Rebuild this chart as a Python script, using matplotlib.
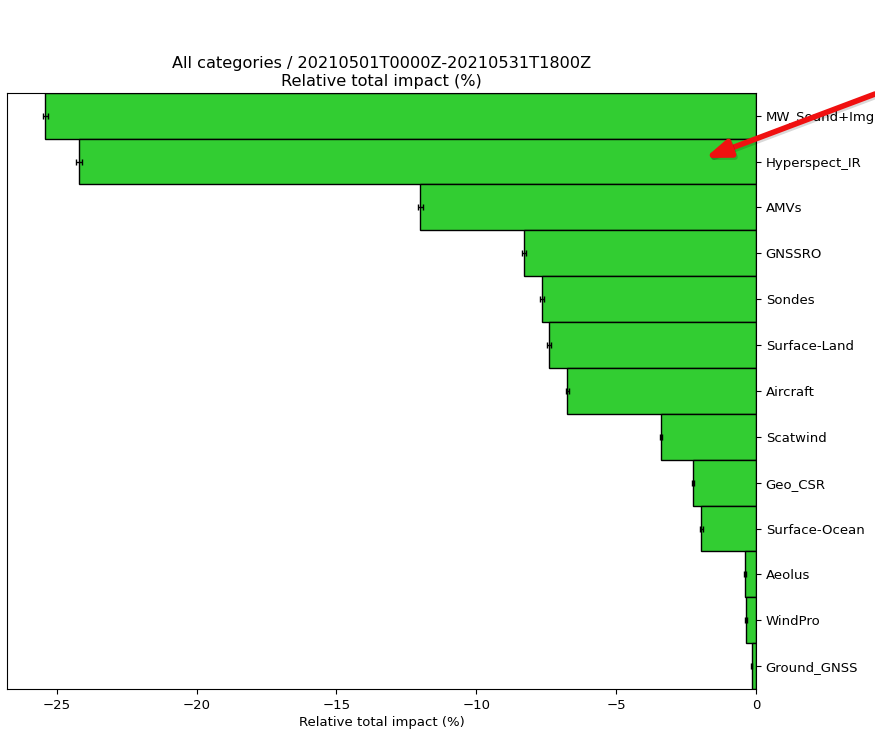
import numpy as np
import matplotlib
matplotlib.use('Agg')
import matplotlib.pyplot as plt
import matplotlib.patheffects as pe

plt.rcParams['font.size'] = 9.5

categories = ['MW_Sound+Img', 'Hyperspect_IR', 'AMVs', 'GNSSRO', 'Sondes',
              'Surface-Land', 'Aircraft', 'Scatwind', 'Geo_CSR',
              'Surface-Ocean', 'Aeolus', 'WindPro', 'Ground_GNSS']
impact = [-25.4, -24.2, -12.0, -8.3, -7.65, -7.4, -6.75, -3.4, -2.25,
          -1.95, -0.4, -0.35, -0.15]
impact_err = [0.1, 0.12, 0.08, 0.08, 0.06, 0.07, 0.05, 0.04, 0.05,
              0.04, 0.03, 0.03, 0.02]

fig = plt.figure(figsize=(8.75, 7.3), dpi=100)
ax = fig.add_axes([0.008, 0.056, 0.856, 0.817])

y = np.arange(len(categories))
ax.barh(y, impact, height=1.0, color='limegreen', edgecolor='black',
        xerr=impact_err, error_kw=dict(ecolor='black', capsize=2, elinewidth=1))
ax.set_yticks(y)
ax.set_yticklabels(categories)
ax.yaxis.tick_right()
ax.set_ylim(len(categories) - 0.5, -0.5)
ax.set_xlabel('Relative total impact (%)', labelpad=3)
ax.set_title('All categories / 20210501T0000Z-20210531T1800Z\nRelative total impact (%)',
             fontsize=11.6, pad=5)

# red arrow pointing at the Hyperspect_IR bar
ax.annotate('', xy=(705 / 875, 1 - 158 / 730), xycoords='figure fraction',
            xytext=(1.0, 1 - 94 / 730), textcoords='figure fraction',
            arrowprops=dict(arrowstyle='-|>,head_length=1.5,head_width=0.55',
                            color='#f01010', lw=4, shrinkA=0, shrinkB=0,
                            path_effects=[pe.SimpleLineShadow(offset=(1, -1.5), alpha=0.15),
                                          pe.Normal()]),
            annotation_clip=False)

fig.savefig('out.png', dpi=100)
